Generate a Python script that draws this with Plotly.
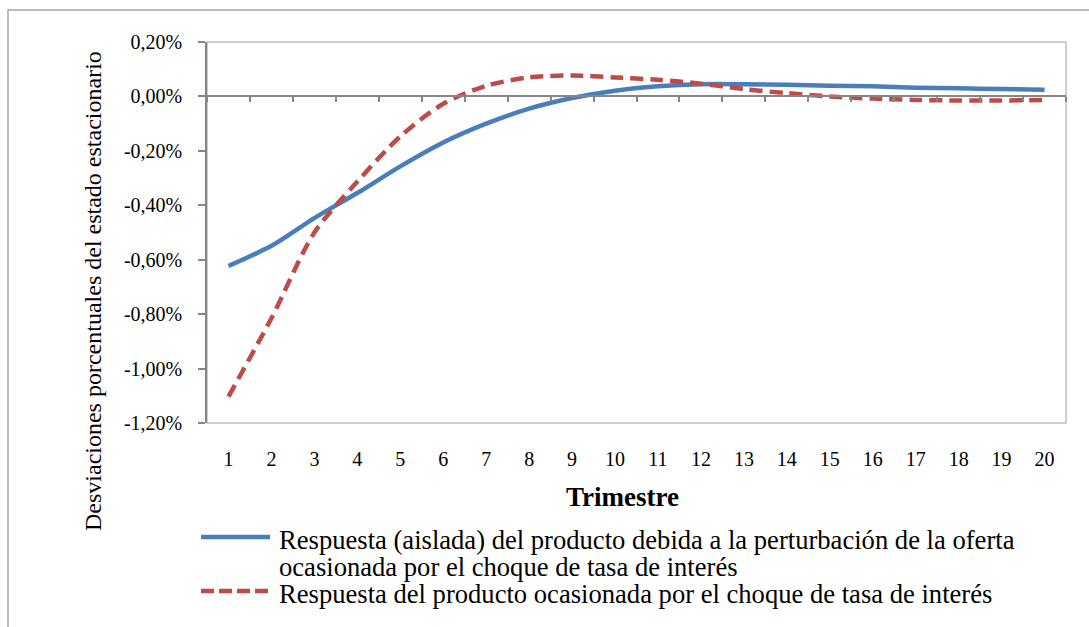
import plotly.graph_objects as go

# Quarters after the shock
trimestres = list(range(1, 21))

# Response of output (percent deviation from steady state)
respuesta_aislada = [-0.623, -0.549, -0.447, -0.355, -0.257, -0.169, -0.100, -0.045, -0.006, 0.021,
                     0.037, 0.045, 0.045, 0.043, 0.039, 0.037, 0.032, 0.030, 0.027, 0.025]
respuesta_total = [-1.103, -0.815, -0.500, -0.313, -0.147, -0.027, 0.039, 0.070, 0.077, 0.070,
                   0.061, 0.047, 0.027, 0.012, 0.000, -0.008, -0.013, -0.015, -0.015, -0.013]

nombres = [
    "Respuesta (aislada) del producto debida a la perturbación de la oferta<br>ocasionada por el choque de tasa de interés",
    "Respuesta del producto ocasionada por el choque de tasa de interés",
]

y_ticks = [0.2, 0.0, -0.2, -0.4, -0.6, -0.8, -1.0, -1.2]
y_ticktext = [f"{v:.2f}".replace(".", ",") + "%" for v in y_ticks]

AZUL = "#4A7EBB"
ROJO = "#BE4B48"
FONT = "Liberation Serif, Times New Roman, serif"

W, H = 1089, 627
L, R, T, B = 207, 23, 42, 204
PW, PH = W - L - R, H - T - B


def px(x):
    return (x - L) / PW


def py(y):
    return (H - B - y) / PH


fig = go.Figure()
fig.add_trace(go.Scatter(x=trimestres, y=respuesta_aislada, mode="lines", name=nombres[0],
                         line=dict(color=AZUL, width=4.5, shape="spline", smoothing=0.8),
                         showlegend=False))
fig.add_trace(go.Scatter(x=trimestres, y=respuesta_total, mode="lines", name=nombres[1],
                         line=dict(color=ROJO, width=4.5, shape="spline", smoothing=0.8, dash="13px,7px"),
                         showlegend=False))

# Category axis crossing at zero, with tick marks between categories
fig.add_trace(go.Scatter(x=[0.5, 20.5], y=[0, 0], xaxis="x2", mode="lines",
                         line=dict(width=0), hoverinfo="skip", showlegend=False))

shapes = [
    # plot area frame
    dict(type="rect", xref="paper", yref="paper", x0=0, x1=1, y0=0, y1=1,
         line=dict(color="#BFBFBF", width=1.5), layer="below"),
    # chart area frame
    dict(type="rect", xref="paper", yref="paper", x0=px(8), x1=px(1120), y0=py(660), y1=py(10),
         line=dict(color="#A6A6A6", width=1.5), layer="below"),
    # legend keys
    dict(type="line", xref="paper", yref="paper", x0=px(201), x1=px(270), y0=py(537), y1=py(537),
         line=dict(color=AZUL, width=4.5)),
    dict(type="line", xref="paper", yref="paper", x0=px(201), x1=px(270), y0=py(591), y1=py(591),
         line=dict(color=ROJO, width=4.5, dash="13px,5px")),
]

linea1, linea2 = nombres[0].split("<br>")
annotations = [
    dict(text="Desviaciones porcentuales del estado estacionario", xref="paper", yref="paper",
         x=px(93), y=py(291), textangle=-90, showarrow=False,
         font=dict(family=FONT, size=24, color="black"), xanchor="center", yanchor="middle"),
    dict(text="<b>Trimestre</b>", xref="paper", yref="paper", x=px(622), y=py(497),
         showarrow=False, font=dict(family=FONT, size=27, color="black"),
         xanchor="center", yanchor="middle"),
    dict(text=linea1, xref="paper", yref="paper", x=px(277), y=py(540), showarrow=False,
         font=dict(family=FONT, size=26.6, color="black"), xanchor="left", yanchor="middle"),
    dict(text=linea2, xref="paper", yref="paper", x=px(277), y=py(567), showarrow=False,
         font=dict(family=FONT, size=26.6, color="black"), xanchor="left", yanchor="middle"),
    dict(text=nombres[1], xref="paper", yref="paper", x=px(277), y=py(594), showarrow=False,
         font=dict(family=FONT, size=26.6, color="black"), xanchor="left", yanchor="middle"),
]

fig.update_layout(
    width=W, height=H,
    margin=dict(l=L, r=R, t=T, b=B),
    paper_bgcolor="white", plot_bgcolor="white",
    showlegend=False,
    shapes=shapes,
    annotations=annotations,
    xaxis=dict(range=[0.5, 20.5], tickvals=trimestres, showgrid=False, zeroline=False,
               showline=False, ticks="", ticklabelstandoff=22,
               tickfont=dict(family=FONT, size=20, color="black")),
    xaxis2=dict(range=[0.5, 20.5], overlaying="x", anchor="free", side="bottom",
                position=(0 - y_ticks[-1]) / (y_ticks[0] - y_ticks[-1]),
                tickvals=[i + 0.5 for i in range(0, 21)], showticklabels=False,
                ticks="outside", ticklen=5, tickcolor="#868686", tickwidth=1.5,
                showline=True, linecolor="#868686", linewidth=1.5,
                showgrid=False, zeroline=False),
    yaxis=dict(range=[y_ticks[-1], y_ticks[0]], tickvals=y_ticks, ticktext=y_ticktext,
               showgrid=False, zeroline=False, showline=True, linecolor="#868686", linewidth=1.5,
               ticks="outside", ticklen=7, tickcolor="#868686", tickwidth=1.5,
               ticklabelstandoff=12,
               tickfont=dict(family=FONT, size=20, color="black")),
)

fig.write_html("out.html")
